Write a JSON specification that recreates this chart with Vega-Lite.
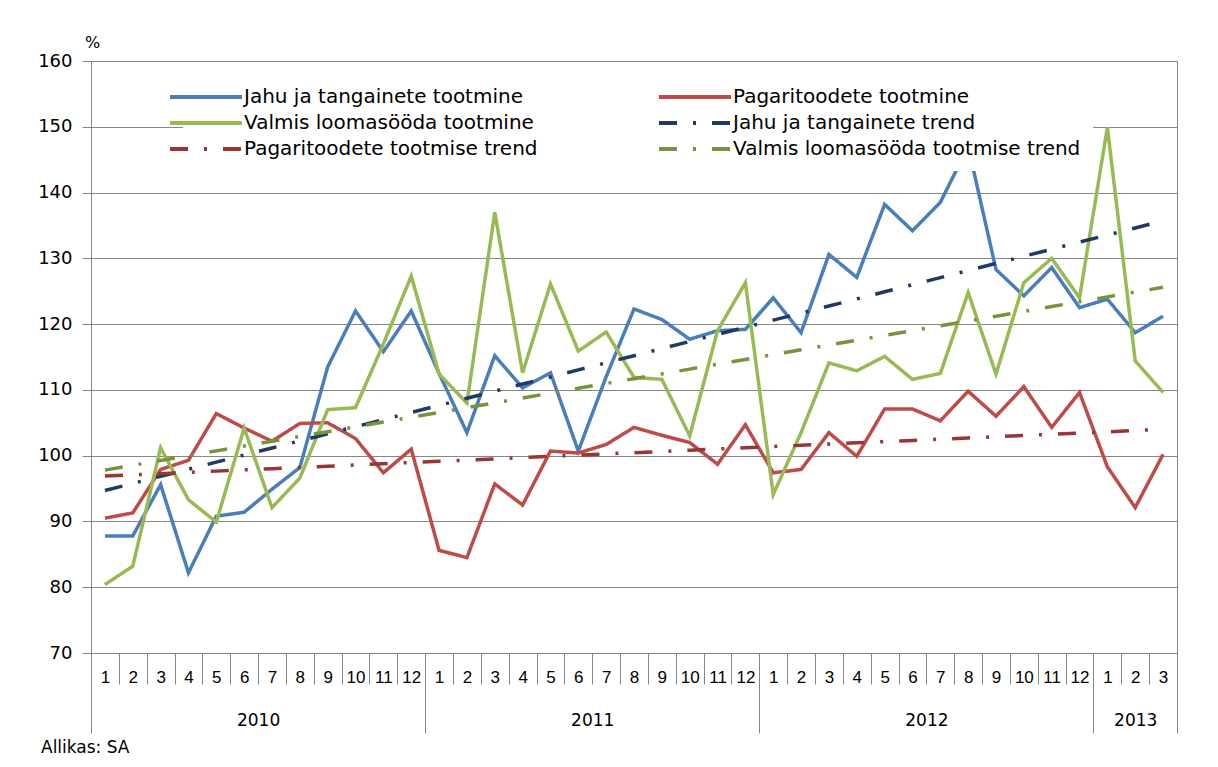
{
  "$schema": "https://vega.github.io/schema/vega-lite/v6.json",
  "autosize": {"type": "none"},
  "width": 1086,
  "height": 592,
  "padding": {"left": 91, "top": 61, "right": 41, "bottom": 114},
  "background": "white",
  "config": {
    "view": {"stroke": "#868686", "strokeWidth": 1},
    "axis": {"labelFlush": false, "labelOverlap": false, "labelBound": false, "domainColor": "#868686", "tickColor": "#868686", "gridColor": "#868686", "labelColor": "#000000"}
  },
  "title": {"text": "Allikas: SA", "orient": "bottom", "anchor": "start", "frame": "group", "dx": -50, "offset": 6, "font": "DejaVu Sans", "fontSize": 17, "fontWeight": "normal", "color": "#000000"},
  "data": {"values": [
    {"i": 0, "a": 87.8, "b": 90.5, "c": 80.4, "d": 94.7, "e": 96.9, "f": 97.8},
    {"i": 1, "a": 87.8, "b": 91.3, "c": 83.2, "d": 95.78, "e": 97.09, "f": 98.53},
    {"i": 2, "a": 95.6, "b": 97.9, "c": 101.2, "d": 96.86, "e": 97.27, "f": 99.26},
    {"i": 3, "a": 82.2, "b": 99.3, "c": 93.3, "d": 97.94, "e": 97.46, "f": 100.0},
    {"i": 4, "a": 90.8, "b": 106.4, "c": 89.9, "d": 99.02, "e": 97.65, "f": 100.73},
    {"i": 5, "a": 91.4, "b": 104.2, "c": 104.2, "d": 100.1, "e": 97.84, "f": 101.46},
    {"i": 6, "a": 94.9, "b": 102.2, "c": 92.1, "d": 101.17, "e": 98.02, "f": 102.19},
    {"i": 7, "a": 98.2, "b": 104.9, "c": 96.6, "d": 102.25, "e": 98.21, "f": 102.92},
    {"i": 8, "a": 113.5, "b": 105.0, "c": 107.0, "d": 103.33, "e": 98.4, "f": 103.65},
    {"i": 9, "a": 122.0, "b": 102.6, "c": 107.3, "d": 104.41, "e": 98.58, "f": 104.38},
    {"i": 10, "a": 115.8, "b": 97.4, "c": 117.0, "d": 105.49, "e": 98.77, "f": 105.12},
    {"i": 11, "a": 122.0, "b": 101.0, "c": 127.3, "d": 106.57, "e": 98.96, "f": 105.85},
    {"i": 12, "a": 112.5, "b": 85.6, "c": 112.4, "d": 107.65, "e": 99.14, "f": 106.58},
    {"i": 13, "a": 103.5, "b": 84.5, "c": 108.0, "d": 108.73, "e": 99.33, "f": 107.31},
    {"i": 14, "a": 115.2, "b": 95.7, "c": 137.0, "d": 109.81, "e": 99.52, "f": 108.04},
    {"i": 15, "a": 110.3, "b": 92.5, "c": 112.6, "d": 110.89, "e": 99.71, "f": 108.77},
    {"i": 16, "a": 112.6, "b": 100.7, "c": 126.1, "d": 111.96, "e": 99.89, "f": 109.51},
    {"i": 17, "a": 100.7, "b": 100.4, "c": 115.9, "d": 113.04, "e": 100.08, "f": 110.24},
    {"i": 18, "a": 112.0, "b": 101.7, "c": 118.8, "d": 114.12, "e": 100.27, "f": 110.97},
    {"i": 19, "a": 122.3, "b": 104.3, "c": 111.9, "d": 115.2, "e": 100.45, "f": 111.7},
    {"i": 20, "a": 120.7, "b": 103.1, "c": 111.6, "d": 116.28, "e": 100.64, "f": 112.43},
    {"i": 21, "a": 117.7, "b": 102.0, "c": 103.0, "d": 117.36, "e": 100.83, "f": 113.16},
    {"i": 22, "a": 119.0, "b": 98.7, "c": 119.0, "d": 118.44, "e": 101.01, "f": 113.9},
    {"i": 23, "a": 119.2, "b": 104.7, "c": 126.3, "d": 119.52, "e": 101.2, "f": 114.63},
    {"i": 24, "a": 124.0, "b": 97.4, "c": 94.1, "d": 120.6, "e": 101.39, "f": 115.36},
    {"i": 25, "a": 118.7, "b": 97.9, "c": 103.5, "d": 121.68, "e": 101.58, "f": 116.09},
    {"i": 26, "a": 130.6, "b": 103.5, "c": 114.1, "d": 122.75, "e": 101.76, "f": 116.82},
    {"i": 27, "a": 127.1, "b": 99.9, "c": 112.9, "d": 123.83, "e": 101.95, "f": 117.55},
    {"i": 28, "a": 138.2, "b": 107.1, "c": 115.1, "d": 124.91, "e": 102.14, "f": 118.28},
    {"i": 29, "a": 134.2, "b": 107.1, "c": 111.6, "d": 125.99, "e": 102.32, "f": 119.02},
    {"i": 30, "a": 138.5, "b": 105.3, "c": 112.5, "d": 127.07, "e": 102.51, "f": 119.75},
    {"i": 31, "a": 147.0, "b": 109.8, "c": 124.8, "d": 128.15, "e": 102.7, "f": 120.48},
    {"i": 32, "a": 128.3, "b": 106.0, "c": 112.4, "d": 129.23, "e": 102.88, "f": 121.21},
    {"i": 33, "a": 124.3, "b": 110.5, "c": 126.3, "d": 130.31, "e": 103.07, "f": 121.94},
    {"i": 34, "a": 128.6, "b": 104.3, "c": 130.0, "d": 131.39, "e": 103.26, "f": 122.67},
    {"i": 35, "a": 122.5, "b": 109.6, "c": 124.0, "d": 132.47, "e": 103.45, "f": 123.41},
    {"i": 36, "a": 123.8, "b": 98.3, "c": 149.9, "d": 133.54, "e": 103.63, "f": 124.14},
    {"i": 37, "a": 118.7, "b": 92.1, "c": 114.4, "d": 134.62, "e": 103.82, "f": 124.87},
    {"i": 38, "a": 121.2, "b": 100.2, "c": 109.6, "d": 135.7, "e": 104.01, "f": 125.6}
  ]},
  "transform": [{"fold": ["a", "b", "c", "d", "e", "f"], "as": ["s", "v"]}],
  "resolve": {"axis": {"x": "independent"}},
  "layer": [
    {
      "mark": {"type": "line", "strokeWidth": 3.5},
      "encoding": {
        "x": {"field": "i", "type": "quantitative",
          "scale": {"domain": [-0.5, 38.5], "nice": false, "zero": false},
          "axis": {"orient": "bottom", "title": null, "values": [0,1,2,3,4,5,6,7,8,9,10,11,12,13,14,15,16,17,18,19,20,21,22,23,24,25,26,27,28,29,30,31,32,33,34,35,36,37,38],
            "labelExpr": "(datum.value % 12) + 1", "ticks": false, "grid": false, "domain": true,
            "labelPadding": 24, "labelBaseline": "middle", "labelFont": "Liberation Sans Narrow, Liberation Sans", "labelFontSize": 17}},
        "y": {"field": "v", "type": "quantitative",
          "scale": {"domain": [70, 160], "nice": false, "zero": false},
          "axis": {"title": "%", "titleAngle": 0, "titleX": 1, "titleY": -19, "titleAlign": "center", "titleBaseline": "middle", "titleFont": "DejaVu Sans", "titleFontSize": 16, "titleFontWeight": "normal", "titleColor": "#000000",
            "values": [70,80,90,100,110,120,130,140,150,160], "grid": true, "tickSize": 9, "labelPadding": 10, "labelFont": "DejaVu Sans", "labelFontSize": 18}},
        "color": {"field": "s", "type": "nominal",
          "scale": {"domain": ["a","c","e","b","d","f"], "range": ["#4A7EBB","#98B954","#953735","#BE4B48","#1F3A64","#77933C"]},
          "legend": {"title": null, "orient": "none", "legendX": 92, "legendY": 13, "columns": 2, "columnPadding": 113, "rowPadding": 5, "padding": 12, "fillColor": "white",
            "symbolType": "M-4,0H4", "symbolSize": 324, "symbolStrokeWidth": 4, "labelOffset": 27, "labelFont": "DejaVu Sans", "labelFontSize": 20, "labelColor": "#000000", "labelLimit": 500,
            "labelExpr": "{'a':'Jahu ja tangainete tootmine','b':'Pagaritoodete tootmine','c':'Valmis loomasööda tootmine','d':'Jahu ja tangainete trend','e':'Pagaritoodete tootmise trend','f':'Valmis loomasööda tootmise trend'}[datum.label]"}},
        "strokeDash": {"field": "s", "type": "nominal",
          "scale": {"domain": ["a","c","e","b","d","f"], "range": [[1,0],[1,0],[18,16,3,16],[1,0],[18,16,3,16],[18,16,3,16]]},
          "legend": {"title": null, "orient": "none", "legendX": 92, "legendY": 13, "columns": 2, "columnPadding": 113, "rowPadding": 5, "padding": 12, "fillColor": "white",
            "symbolType": "M-4,0H4", "symbolSize": 324, "symbolStrokeWidth": 4, "labelOffset": 27, "labelFont": "DejaVu Sans", "labelFontSize": 20, "labelColor": "#000000", "labelLimit": 500,
            "labelExpr": "{'a':'Jahu ja tangainete tootmine','b':'Pagaritoodete tootmine','c':'Valmis loomasööda tootmine','d':'Jahu ja tangainete trend','e':'Pagaritoodete tootmise trend','f':'Valmis loomasööda tootmise trend'}[datum.label]"}}
      }
    },
    {
      "mark": {"type": "point", "opacity": 0},
      "encoding": {
        "x": {"field": "i", "type": "quantitative",
          "scale": {"domain": [-0.5, 38.5], "nice": false, "zero": false},
          "axis": {"orient": "bottom", "title": null, "values": [-0.5,0.5,1.5,2.5,3.5,4.5,5.5,6.5,7.5,8.5,9.5,10.5,11.5,12.5,13.5,14.5,15.5,16.5,17.5,18.5,19.5,20.5,21.5,22.5,23.5,24.5,25.5,26.5,27.5,28.5,29.5,30.5,31.5,32.5,33.5,34.5,35.5,36.5,37.5,38.5],
            "labels": false, "ticks": true, "tickSize": 31, "grid": false, "domain": false}}
      }
    },
    {
      "mark": {"type": "point", "opacity": 0},
      "encoding": {
        "x": {"field": "i", "type": "quantitative",
          "scale": {"domain": [-0.5, 38.5], "nice": false, "zero": false},
          "axis": {"orient": "bottom", "title": null, "values": [-0.5, 11.5, 23.5, 35.5, 38.5],
            "labels": false, "ticks": true, "tickSize": 80, "grid": false, "domain": false}}
      }
    },
    {
      "mark": {"type": "point", "opacity": 0},
      "encoding": {
        "x": {"field": "i", "type": "quantitative",
          "scale": {"domain": [-0.5, 38.5], "nice": false, "zero": false},
          "axis": {"orient": "bottom", "title": null, "values": [5.5, 17.5, 29.5, 37],
            "labelExpr": "datum.value < 12 ? '2010' : datum.value < 24 ? '2011' : datum.value < 36 ? '2012' : '2013'",
            "ticks": false, "grid": false, "domain": false, "labelPadding": 67, "labelBaseline": "middle", "labelFont": "DejaVu Sans", "labelFontSize": 17}}
      }
    }
  ]
}
